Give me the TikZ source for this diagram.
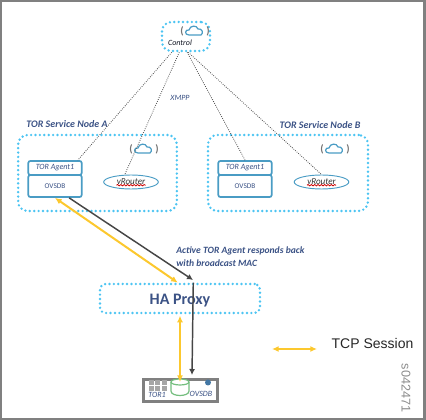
\documentclass[tikz,border=0pt]{standalone}
\usepackage{fontspec}
\setmainfont{Carlito}
\newfontfamily\arialfont{Liberation Sans}
\usetikzlibrary{decorations.pathmorphing,arrows.meta}
\definecolor{dotblue}{HTML}{4CC4F2}
\definecolor{boxblue}{HTML}{4A9CC4}
\definecolor{txtblue}{HTML}{3B5285}
\definecolor{tcpyellow}{HTML}{FCC82E}
\definecolor{arrowgray}{HTML}{464646}
\definecolor{framegray}{HTML}{808080}
\definecolor{cylgreen}{HTML}{74BE7E}
\tikzset{
	dotbox/.style={draw=dotblue,line width=2pt,line cap=round,dash pattern=on 0pt off 3.3pt,rounded corners=7pt,inner sep=0pt},
	tbox/.style={draw=boxblue,line width=1.3pt,rounded corners=1.5pt,minimum width=40pt,inner sep=0pt,text=txtblue,font=\fontsize{5.5}{6}\selectfont},
	rbox/.style={draw=boxblue,line width=0.7pt,ellipse,minimum width=41pt,minimum height=10.5pt,inner sep=0pt},
	ctlline/.style={densely dotted,line width=0.6pt,black!70},
	tcpline/.style={tcpyellow,line width=1.5pt,{Latex[length=5pt,width=4.5pt]}-{Latex[length=5pt,width=4.5pt]}},
	respline/.style={arrowgray,line width=1.1pt,-{Latex[length=4.5pt,width=4.5pt]}},
	lbl/.style={text=txtblue,inner sep=0pt,font=\fontsize{7.5}{10}\selectfont\bfseries\itshape},
	small/.style={text=txtblue,inner sep=0pt,font=\fontsize{6}{6}\selectfont\itshape},
	pics/cloudicon/.style={code={
		\draw[#1,line width=0.9pt,fill=white] (-6,4) .. controls (-11,4) and (-10,-2) .. (-6,-1) .. controls (-5,-6) and (2,-6) .. (3,-2) .. controls (7,-3) and (9,2) .. (6,4) -- cycle;
		\node[text=black!55,font=\fontsize{8}{8}\selectfont\bfseries] (p1) at (-13,0) {(};
		\node[text=black!55,font=\fontsize{8}{8}\selectfont\bfseries] (p2) at (13,0) {)};
	}},
}
\usetikzlibrary{shapes.geometric}
\begin{document}
\begin{tikzpicture}[x=0.75pt,y=-0.75pt]
	\useasboundingbox (0,0) rectangle (426,420);
	% frame
	\fill[framegray] (0,0) rectangle (426,2);
	\fill[framegray] (0,0) rectangle (2,420);
	\fill[framegray] (423,0) rectangle (426,420);
	\fill[framegray] (0,418) rectangle (426,420);
	% boxes
	\node[dotbox,minimum width=36pt,minimum height=21.75pt] (control) at (186,36.5) {};
	\node[dotbox,minimum width=119pt,minimum height=57pt] (nodeA) at (97.5,173) {};
	\node[dotbox,minimum width=120pt,minimum height=57pt] (nodeB) at (288,173) {};
	\node[dotbox,rounded corners=4pt,minimum width=120pt,minimum height=21.75pt] (haproxy) at (180,298.5) {};
	\pic at (195,31) {cloudicon=boxblue};
	\pic at (144,149) {cloudicon=boxblue};
	\pic at (335,149) {cloudicon=boxblue};
	\node[small,text=black!75!txtblue] (ctltxt) at (180,43) {Control};
	\node[small] (xmpp) at (180,98) {XMPP};
	\node[lbl] (nameA) at (67,124) {TOR Service Node A};
	\node[lbl] (nameB) at (320,125) {TOR Service Node B};
	\node[tbox,minimum height=10.5pt,font=\fontsize{6}{6}\selectfont\itshape] (agentA) at (55,168) {TOR Agent1};
	\node[tbox,minimum height=16.5pt] (ovsA) at (55,186) {OVSDB};
	\node[tbox,minimum height=10.5pt,font=\fontsize{6}{6}\selectfont\itshape] (agentB) at (245,168) {TOR Agent1};
	\node[tbox,minimum height=16.5pt] (ovsB) at (245,186) {OVSDB};
	\node[rbox] (vrA) at (131,182) {};
	\node[rbox] (vrB) at (321.5,182) {};
	\node[small,text=black!80,font=\fontsize{6.8}{7}\selectfont\itshape] (vrtxtA) at (131,182) {vRouter};
	\node[small,text=black!80,font=\fontsize{6.8}{7}\selectfont\itshape] (vrtxtB) at (321.5,182) {vRouter};
	\draw[red!80!black,line width=0.6pt,decorate,decoration={snake,amplitude=0.5pt,segment length=2.5pt}] (vrtxtA.south west) -- (vrtxtA.south east);
	\draw[red!80!black,line width=0.6pt,decorate,decoration={snake,amplitude=0.5pt,segment length=2.5pt}] (vrtxtB.south west) -- (vrtxtB.south east);
	% control lines
	\draw[ctlline] (control.228) -- (agentA.19);
	\draw[ctlline] (control.247) -- (vrA.131);
	\draw[ctlline] (control.274) -- (agentB.north);
	\draw[ctlline] (control.278) -- (vrB.north);
	\node[text=txtblue,inner sep=0pt,font=\fontsize{12}{12}\selectfont\bfseries] (hatxt) at (180,301) {HA Proxy};
	\node[lbl,align=left,anchor=north west,font=\fontsize{7.2}{9.8}\selectfont\bfseries\itshape] (resp) at (176,246.5) {Active TOR Agent responds back\\with broadcast MAC};
	% device
	\node[draw=black!50,line width=2.2pt,fill=white,minimum width=56pt,minimum height=17pt,inner sep=0pt] (device) at (180.5,390.5) {};
	\foreach \i in {0,1,2} \foreach \j in {0,1}
		\fill[black!35] (148.5+6.5*\i,380.5+6*\j) rectangle +(5,4.6);
	\draw[cylgreen,line width=0.9pt,fill=white] (171,382) -- (171,391) .. controls (171,397) and (189,397) .. (189,391) -- (189,382);
	\draw[cylgreen,line width=0.9pt,fill=white] (180,382) ellipse (9 and 3);
	\coordinate (dbtop) at (180,382);
	\fill[boxblue!50!txtblue] (208,382.5) circle (3);
	\node[small,font=\fontsize{6}{6}\selectfont\itshape] (tor1) at (157,395) {TOR1};
	\node[small,font=\fontsize{6}{6}\selectfont\itshape] (ovsdev) at (201,393.5) {OVSDB};
	% sessions
	\coordinate (hatop) at (193,280);
	\coordinate (devtop) at (192,375);
	\draw[tcpline] (ovsA.south) -- (haproxy.98);
	\draw[tcpline,shorten <=1pt] (haproxy.south) -- (dbtop);
	\draw[respline] (ovsA.320) -- (hatop);
	\draw[respline] (haproxy.50) -- (devtop);
	% legend
	\coordinate (tcpL) at (272,349);
	\coordinate (tcpR) at (317,349);
	\draw[tcpline] (tcpL) -- (tcpR);
	\node[inner sep=0pt,text=black!85,font=\arialfont\fontsize{10.5}{12}\selectfont] (tcp) at (372.5,343) {TCP Session};
	\node[inner sep=0pt,rotate=-90,text=black!45,font=\arialfont\fontsize{9.5}{10}\selectfont] (fig) at (406,388) {s042471};
\end{tikzpicture}
\end{document}
